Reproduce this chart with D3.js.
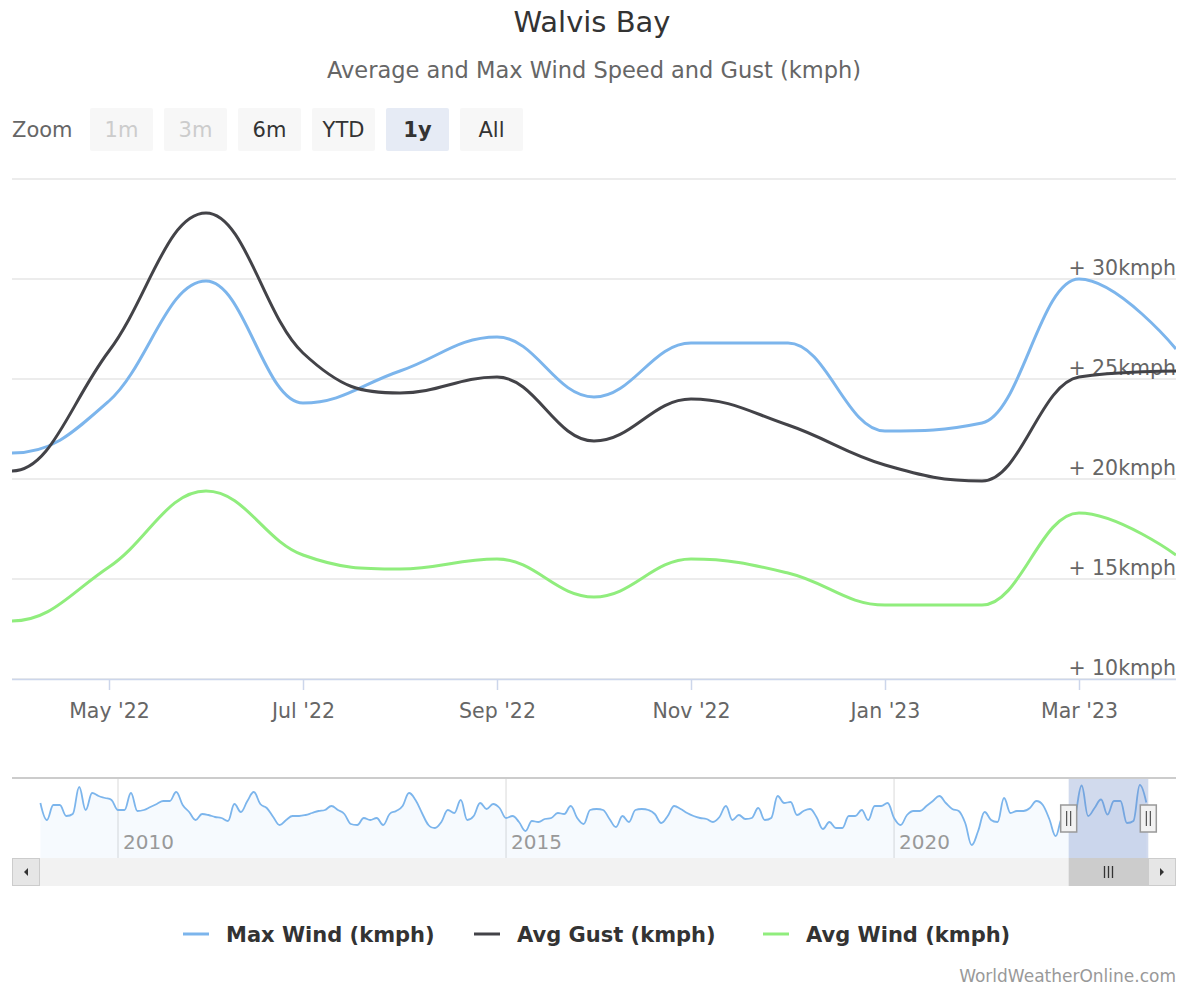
<!DOCTYPE html>
<html>
<head>
<meta charset="utf-8">
<script src="https://cdn.jsdelivr.net/npm/d3@7"></script>
<style>
	body { margin: 0; background: #fff; }
	svg { display: block; font-family: "DejaVu Sans", sans-serif; }
</style>
</head>
<body>
<div id="chart"></div>
<script>
// monthly points shown in the 1y window
const months = ["2022-04", "2022-05", "2022-06", "2022-07", "2022-08", "2022-09", "2022-10",
	"2022-11", "2022-12", "2023-01", "2023-02", "2023-03", "2023-04"];
const maxWind = [21.3, 23.9, 29.9, 23.8, 25.4, 27.1, 24.1, 26.8, 26.8, 22.4, 22.8, 30.0, 26.5];
const avgGust = [20.4, 26.4, 33.3, 26.3, 24.3, 25.1, 21.9, 24.0, 22.7, 20.7, 19.9, 25.1, 25.4];
const avgWind = [12.9, 15.6, 19.4, 16.2, 15.5, 16.0, 14.1, 16.0, 15.3, 13.7, 13.7, 18.3, 16.2];

const yTicks = [10, 15, 20, 25, 30];
const xTickIdx = [1, 3, 5, 7, 9, 11];

// navigator: Max Wind history, Jan 2009 .. Mar 2022 (rest is maxWind above)
const navStart = "2009-01";
const navHistory = [
	26.4, 23.0, 26.0, 26.0, 23.8, 24.2, 29.6, 25.0, 28.4, 27.8, 27.4, 27.0,
	25.0, 25.0, 28.4, 24.8, 25.0, 25.6, 26.2, 26.8, 26.8, 28.6, 26.0, 24.6,
	23.0, 24.2, 24.0, 23.6, 23.4, 22.8, 26.2, 24.6, 26.8, 28.6, 26.2, 25.4,
	23.6, 22.0, 23.0, 23.8, 23.8, 24.0, 24.4, 24.8, 25.0, 25.8, 25.0, 24.2,
	22.2, 22.0, 23.4, 23.0, 23.4, 22.0, 24.2, 24.8, 25.8, 28.4, 27.0, 24.4,
	22.0, 21.4, 22.6, 25.0, 24.4, 27.0, 23.0, 23.8, 26.4, 25.2, 26.2, 25.4,
	23.4, 23.8, 22.6, 20.8, 22.8, 22.6, 23.2, 23.4, 24.4, 24.2, 25.8, 23.4,
	22.2, 25.0, 25.2, 25.0, 23.2, 21.6, 23.8, 22.6, 25.0, 25.2, 25.0, 24.2,
	22.4, 23.8, 25.8, 25.2, 24.4, 23.8, 23.4, 23.2, 22.6, 23.6, 25.8, 23.0,
	24.0, 23.2, 23.4, 25.4, 23.0, 23.4, 27.8, 26.4, 26.6, 24.0, 24.8, 25.2,
	23.6, 21.2, 22.6, 21.4, 21.4, 23.8, 23.8, 25.0, 23.0, 25.8, 25.8, 26.4,
	23.4, 22.0, 24.0, 24.8, 24.8, 25.8, 26.8, 27.8, 26.4, 25.2, 24.8, 22.4,
	18.0, 20.8, 24.6, 23.0, 22.6, 27.4, 24.4, 24.8, 24.8, 25.4, 26.8, 26.0,
	23.2, 19.8, 23.4
];
const navYears = ["2010", "2015", "2020"];

const zoomButtons = ["1m", "3m", "6m", "YTD", "1y", "All"];
const seriesNames = ["Max Wind (kmph)", "Avg Gust (kmph)", "Avg Wind (kmph)"];
const seriesColors = ["#7cb5ec", "#434348", "#90ed7d"];

const W = 1184, H = 985;
const plot = { left: 12, right: 1176, top: 179, bottom: 679 };

const parseMonth = d3.timeParse("%Y-%m");
const fmtTick = d3.timeFormat("%b '%y");

// spline like the one Highcharts draws: handles at 0.4 of the gap,
// kept flat at local extremes so the curve never overshoots.
// flatStart: first point leaves horizontally (series continues off-screen)
function splinePath(pts, flatStart) {
	const sm = 1.5, den = sm + 1;
	const p = d3.path();
	let prevRX = null, prevRY = null;
	pts.forEach((pt, i) => {
		const [px, py] = pt;
		if (i === 0) {
			p.moveTo(px, py);
			if (flatStart && pts[1]) { prevRX = (sm * px + pts[1][0]) / den; prevRY = py; }
			return;
		}
		const last = pts[i - 1], next = pts[i + 1];
		let lx = px, ly = py, rx = null, ry = null;
		if (next) {
			lx = (sm * px + last[0]) / den; ly = (sm * py + last[1]) / den;
			rx = (sm * px + next[0]) / den; ry = (sm * py + next[1]) / den;
			let corr = 0;
			if (rx !== lx) corr = ((ry - ly) * (rx - px)) / (rx - lx) + py - ry;
			ly += corr; ry += corr;
			if (ly > last[1] && ly > py) { ly = Math.max(last[1], py); ry = 2 * py - ly; }
			else if (ly < last[1] && ly < py) { ly = Math.min(last[1], py); ry = 2 * py - ly; }
			if (ry > next[1] && ry > py) { ry = Math.max(next[1], py); ly = 2 * py - ry; }
			else if (ry < next[1] && ry < py) { ry = Math.min(next[1], py); ly = 2 * py - ry; }
		}
		p.bezierCurveTo(prevRX === null ? last[0] : prevRX, prevRY === null ? last[1] : prevRY,
			lx, ly, px, py);
		prevRX = rx; prevRY = ry;
	});
	return p.toString();
}

const svg = d3.select("#chart").append("svg")
	.attr("width", W)
	.attr("height", H);

// titles
svg.append("text")
	.attr("x", W / 2).attr("y", 32)
	.attr("text-anchor", "middle")
	.attr("font-size", 29).attr("fill", "#333")
	.text("Walvis Bay");
svg.append("text")
	.attr("x", 594).attr("y", 78)
	.attr("text-anchor", "middle")
	.attr("font-size", 22.5).attr("fill", "#666")
	.text("Average and Max Wind Speed and Gust (kmph)");

// range selector
svg.append("text")
	.attr("x", 12).attr("y", 137)
	.attr("font-size", 21).attr("fill", "#666")
	.text("Zoom");
const btn = svg.selectAll("g.btn").data(zoomButtons).enter().append("g")
	.attr("class", "btn")
	.attr("transform", (d, i) => `translate(${90 + i * 74},108)`);
btn.append("rect")
	.attr("width", 63).attr("height", 43).attr("rx", 2)
	.attr("fill", d => d === "1y" ? "#e6ebf5" : "#f7f7f7");
btn.append("text")
	.attr("x", 31.5).attr("y", 29)
	.attr("text-anchor", "middle")
	.attr("font-size", 21)
	.attr("font-weight", d => d === "1y" ? "bold" : "normal")
	.attr("fill", (d, i) => i < 2 ? "#cccccc" : "#333")
	.text(d => d);

// scales
const x = d3.scaleLinear().domain([0, months.length - 1]).range([plot.left, plot.right]);
const y = d3.scaleLinear().domain([10, 35]).range([plot.bottom, plot.top]);

// grid + y labels (drawn under the series)
svg.append("g").selectAll("line").data(yTicks.concat([35])).enter().append("line")
	.attr("x1", plot.left).attr("x2", plot.right)
	.attr("y1", d => y(d)).attr("y2", d => y(d))
	.attr("stroke", "#e6e6e6").attr("stroke-width", 1.5);
svg.append("g").selectAll("text").data(yTicks).enter().append("text")
	.attr("x", plot.right).attr("y", d => y(d) - 4)
	.attr("text-anchor", "end")
	.attr("font-size", 20.5).attr("fill", "#666")
	.text(d => "+ " + d + "kmph");

// x axis
const xAxis = d3.axisBottom(x)
	.tickValues(xTickIdx)
	.tickSize(11)
	.tickFormat(i => fmtTick(parseMonth(months[i])));
const gx = svg.append("g")
	.attr("transform", `translate(0,${plot.bottom})`)
	.call(xAxis);
gx.select(".domain").attr("stroke", "#ccd6eb").attr("stroke-width", 1.5)
	.attr("d", `M${plot.left},0.5H${plot.right}`);
gx.selectAll(".tick line").attr("stroke", "#ccd6eb").attr("stroke-width", 1.5);
gx.selectAll(".tick text")
	.attr("y", 24).attr("dy", "0.71em")
	.attr("font-size", 20.5).attr("fill", "#666")
	.attr("font-family", "DejaVu Sans, sans-serif");

// series
svg.append("clipPath").attr("id", "plotclip").append("rect")
	.attr("x", plot.left).attr("y", plot.top - 40)
	.attr("width", plot.right - plot.left).attr("height", plot.bottom - plot.top + 40);
[maxWind, avgGust, avgWind].forEach((s, k) => {
	svg.append("path")
		.attr("d", splinePath(s.map((v, i) => [x(i), y(v)]), true))
		.attr("fill", "none")
		.attr("stroke", seriesColors[k])
		.attr("stroke-width", 3)
		.attr("stroke-linejoin", "round")
		.attr("clip-path", "url(#plotclip)");
});

// navigator
const nav = { top: 778, bottom: 858, left: 40.4, right: 1146.3 };
const navData = navHistory.concat(maxWind);
const navX = d3.scaleLinear().domain([0, navData.length - 1]).range([nav.left, nav.right]);
const navY = d3.scaleLinear().domain([17, 31]).range([850, 780]);
const navT0 = parseMonth(navStart);
const monthIndex = dt => d3.timeMonth.count(navT0, dt);

svg.append("g").selectAll("line").data(navYears).enter().append("line")
	.attr("x1", d => navX(monthIndex(parseMonth(d + "-01"))))
	.attr("x2", d => navX(monthIndex(parseMonth(d + "-01"))))
	.attr("y1", nav.top).attr("y2", nav.bottom)
	.attr("stroke", "#e6e6e6").attr("stroke-width", 1.5);

const navPts = navData.map((v, i) => [navX(i), navY(v)]);
const navLine = splinePath(navPts, false);
svg.append("path")
	.attr("d", navLine + `L${nav.right},${nav.bottom}L${nav.left},${nav.bottom}Z`)
	.attr("fill", "#7cb5ec").attr("fill-opacity", 0.07);
svg.append("path")
	.attr("d", navLine)
	.attr("fill", "none")
	.attr("stroke", "#7cb5ec")
	.attr("stroke-width", 1.8);

svg.append("g").selectAll("text").data(navYears).enter().append("text")
	.attr("x", d => navX(monthIndex(parseMonth(d + "-01"))) + 5)
	.attr("y", 849)
	.attr("font-size", 20).attr("fill", "#999")
	.text(d => d);

// selected range mask
const selX0 = navX(navHistory.length), selX1 = navX(navData.length - 1) + 2;
svg.append("rect")
	.attr("x", selX0).attr("y", nav.top)
	.attr("width", selX1 - selX0).attr("height", nav.bottom - nav.top)
	.attr("fill", "rgba(102,133,194,0.3)");
svg.append("line")
	.attr("x1", plot.left).attr("x2", plot.right)
	.attr("y1", nav.top).attr("y2", nav.top)
	.attr("stroke", "#cccccc").attr("stroke-width", 2);

// handles
[selX0, selX1].forEach(hx => {
	const g = svg.append("g").attr("transform", `translate(${hx},818)`);
	g.append("rect")
		.attr("x", -8).attr("y", -13).attr("width", 16).attr("height", 27)
		.attr("fill", "#f2f2f2").attr("stroke", "#999").attr("stroke-width", 1.5);
	[-2, 2].forEach(dx => g.append("line")
		.attr("x1", dx).attr("x2", dx).attr("y1", -7).attr("y2", 8)
		.attr("stroke", "#333").attr("stroke-width", 1));
});

// scrollbar
const sb = { top: 858, h: 28 };
svg.append("rect")
	.attr("x", plot.left).attr("y", sb.top)
	.attr("width", plot.right - plot.left).attr("height", sb.h)
	.attr("fill", "#f2f2f2");
svg.append("rect")
	.attr("x", selX0).attr("y", sb.top)
	.attr("width", selX1 - selX0).attr("height", sb.h)
	.attr("fill", "#cccccc");
[-4, 0, 4].forEach(dx => svg.append("line")
	.attr("x1", (selX0 + selX1) / 2 + dx).attr("x2", (selX0 + selX1) / 2 + dx)
	.attr("y1", sb.top + 8).attr("y2", sb.top + 20)
	.attr("stroke", "#333").attr("stroke-width", 1.3));
[plot.left, plot.right - 28].forEach((bx, i) => {
	svg.append("rect")
		.attr("x", bx + 0.5).attr("y", sb.top + 0.5)
		.attr("width", 27).attr("height", sb.h - 1)
		.attr("fill", "#e6e6e6").attr("stroke", "#cccccc");
	const cx = bx + 14, cy = sb.top + 14;
	svg.append("path")
		.attr("d", i === 0
			? `M${cx + 2},${cy - 4}L${cx - 2},${cy}L${cx + 2},${cy + 4}Z`
			: `M${cx - 2},${cy - 4}L${cx + 2},${cy}L${cx - 2},${cy + 4}Z`)
		.attr("fill", "#333");
});

// legend
const legendX = [183, 474, 763];
const lg = svg.selectAll("g.legend").data(seriesNames).enter().append("g")
	.attr("class", "legend")
	.attr("transform", (d, i) => `translate(${legendX[i]},934)`);
lg.append("line")
	.attr("x1", 0).attr("x2", 26)
	.attr("stroke", (d, i) => seriesColors[i]).attr("stroke-width", 3);
lg.append("text")
	.attr("x", 43).attr("y", 7.5)
	.attr("font-size", 21).attr("font-weight", "bold").attr("fill", "#333")
	.text(d => d);

// credits
svg.append("text")
	.attr("x", 1176).attr("y", 982)
	.attr("text-anchor", "end")
	.attr("font-size", 17).attr("fill", "#999")
	.text("WorldWeatherOnline.com");
</script>
</body>
</html>
